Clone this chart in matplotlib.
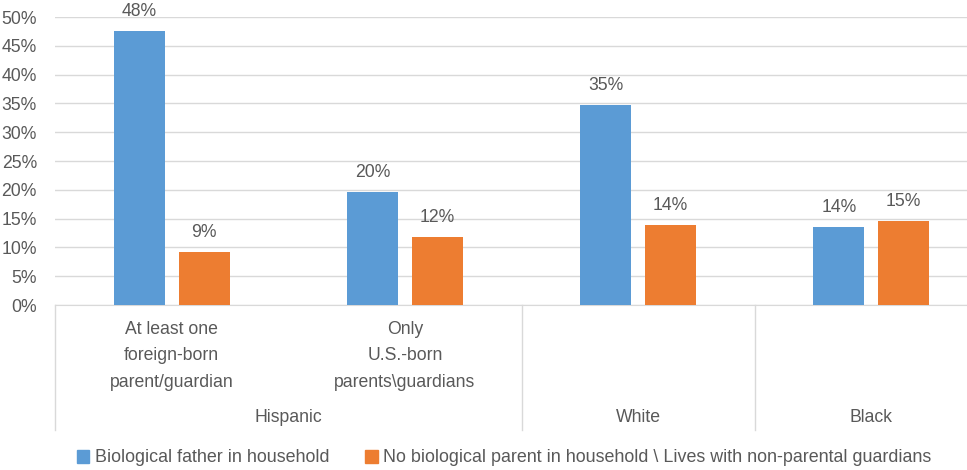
import matplotlib
matplotlib.use("Agg")
import matplotlib.pyplot as plt
import matplotlib.transforms as mtransforms
from matplotlib.ticker import PercentFormatter, MultipleLocator
from matplotlib.patches import Patch
import numpy as np

plt.rcParams['font.family'] = ['Liberation Sans Narrow', 'Liberation Sans', 'DejaVu Sans']

sub_labels = ["At least one\nforeign-born\nparent/guardian",
              "Only\nU.S.-born\nparents\\guardians", "", ""]
group_labels = ["Hispanic", "White", "Black"]
group_spans = [(0, 1), (2, 2), (3, 3)]
series_names = ["Biological father in household",
                "No biological parent in household \\ Lives with non-parental guardians"]
bio_father = [47.5, 19.6, 34.7, 13.5]
no_parent = [9.2, 11.8, 13.9, 14.5]
label_bio = ["48%", "20%", "35%", "14%"]
label_no = ["9%", "12%", "14%", "15%"]

BLUE = "#5B9BD5"
ORANGE = "#ED7D31"
TXT = "#595959"
GRID = "#D9D9D9"

W, H = 967, 470
fig = plt.figure(figsize=(W / 100, H / 100), dpi=100)
left_px, right_px, top_px, bot_px = 55, 988, 17, 305
ax = fig.add_axes([left_px / W, 1 - bot_px / H, (right_px - left_px) / W, (bot_px - top_px) / H])

x = np.arange(len(bio_father))
bw = 0.219
off = 0.139
b1 = ax.bar(x - off, bio_father, bw, color=BLUE, zorder=3)
b2 = ax.bar(x + off, no_parent, bw, color=ORANGE, zorder=3)

for rect, lab in zip(b1, label_bio):
    ax.annotate(lab, (rect.get_x() + rect.get_width() / 2, rect.get_height()),
                xytext=(0, 8), textcoords="offset points", ha="center", va="bottom",
                fontsize=12.7, color=TXT)
for rect, lab in zip(b2, label_no):
    ax.annotate(lab, (rect.get_x() + rect.get_width() / 2, rect.get_height()),
                xytext=(0, 8), textcoords="offset points", ha="center", va="bottom",
                fontsize=12.7, color=TXT)

ax.set_xlim(-0.5, 3.5)
ax.set_ylim(0, 50)
ax.yaxis.set_major_locator(MultipleLocator(5))
ax.yaxis.set_major_formatter(PercentFormatter(decimals=0))
ax.grid(axis="y", color=GRID, linewidth=1, zorder=0)
ax.set_xticks([])
for s in ["top", "right", "left"]:
    ax.spines[s].set_visible(False)
ax.spines["bottom"].set_color(GRID)
ax.tick_params(axis="y", length=0, pad=13, labelsize=12.7, labelcolor=TXT)

trans = mtransforms.blended_transform_factory(ax.transData, fig.transFigure)
for i, lab in enumerate(sub_labels):
    if lab:
        ax.text(i, 1 - 356 / H, lab, transform=trans, ha="center", va="center",
                fontsize=12.7, color=TXT, linespacing=1.7, clip_on=False)
for (a, b), g in zip(group_spans, group_labels):
    ax.text((a + b) / 2, 1 - 418 / H, g, transform=trans, ha="center", va="center",
            fontsize=12.7, color=TXT, clip_on=False)

for xb in [-0.5, 1.5, 2.5, 3.5]:
    ax.plot([xb, xb], [1 - bot_px / H, 1 - 430 / H], transform=trans,
            color=GRID, linewidth=1, clip_on=False)

handles = [Patch(color=BLUE), Patch(color=ORANGE)]
fig.legend(handles, series_names, loc="center", bbox_to_anchor=(504 / W, 1 - 458 / H),
           ncol=2, frameon=False, fontsize=12.9, labelcolor=TXT,
           handlelength=0.7, handleheight=0.7, handletextpad=0.3, columnspacing=2.0)

fig.savefig("out.png", dpi=100)
